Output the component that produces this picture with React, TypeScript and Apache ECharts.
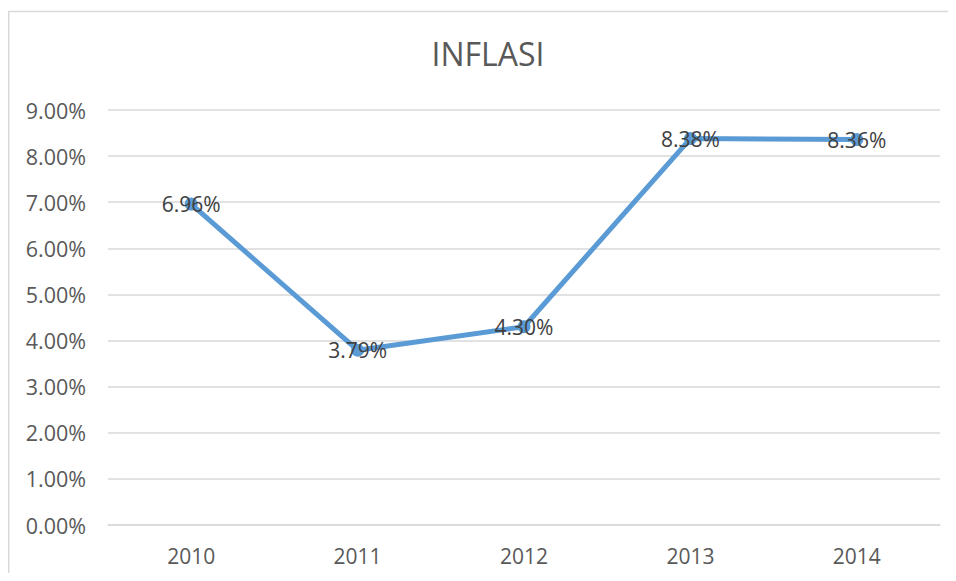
import React, { useEffect, useRef } from "react";
import * as echarts from "echarts";

const categories = ["2010", "2011", "2012", "2013", "2014"];
const inflation = [6.96, 3.79, 4.3, 8.38, 8.36];
const yTicks = [0, 1, 2, 3, 4, 5, 6, 7, 8, 9];

export default function App() {
  const ref = useRef<HTMLDivElement>(null);
  useEffect(() => {
    document.body.style.overflow = "hidden";
    if (!ref.current) return;
    const chart = echarts.init(ref.current, undefined, { renderer: "svg" });
    const font = '"Open Sans", "Noto Sans", sans-serif';
    chart.setOption({
      animation: false,
      backgroundColor: "#ffffff",
      title: {
        text: "INFLASI",
        left: 475,
        textAlign: "center",
        top: 24,
        textStyle: { fontFamily: font, fontSize: 32, fontWeight: "normal", color: "#595959" },
      },
      graphic: [
        {
          type: "line",
          shape: { x1: 0.75, y1: 3.5, x2: 0.75, y2: 600 },
          style: { stroke: "#d9d9d9", lineWidth: 1.5 },
          silent: true,
        },
        {
          type: "line",
          shape: { x1: 0, y1: 3.5, x2: 960, y2: 3.5 },
          style: { stroke: "#d9d9d9", lineWidth: 1.5 },
          silent: true,
        },
      ],
      grid: { left: 100, right: 8, top: 102, bottom: 48, containLabel: false },
      xAxis: {
        type: "category",
        data: categories,
        boundaryGap: true,
        axisLine: { show: true, lineStyle: { color: "#d9d9d9", width: 1.5 } },
        axisTick: { show: false },
        axisLabel: { fontFamily: font, fontSize: 21, color: "#595959", margin: 20 },
      },
      yAxis: {
        type: "value",
        min: yTicks[0],
        max: yTicks[yTicks.length - 1],
        interval: 1,
        axisLine: { show: false },
        axisTick: { show: false },
        splitLine: { lineStyle: { color: "#d9d9d9", width: 1.5 } },
        axisLabel: {
          fontFamily: font,
          fontSize: 21.5,
          color: "#595959",
          margin: 22,
          formatter: (v: number) => v.toFixed(2) + "%",
        },
      },
      series: [
        {
          type: "line",
          data: inflation,
          symbol: "circle",
          symbolSize: 13,
          showSymbol: true,
          lineStyle: { color: "#5B9BD5", width: 5 },
          itemStyle: { color: "#5B9BD5" },
          label: {
            show: true,
            position: "inside",
            fontFamily: font,
            fontSize: 21,
            color: "#404040",
            formatter: (p: any) => Number(p.value).toFixed(2) + "%",
          },
        },
      ],
    });
    return () => chart.dispose();
  }, []);
  return <div ref={ref} style={{ width: 940, height: 565 }} />;
}
